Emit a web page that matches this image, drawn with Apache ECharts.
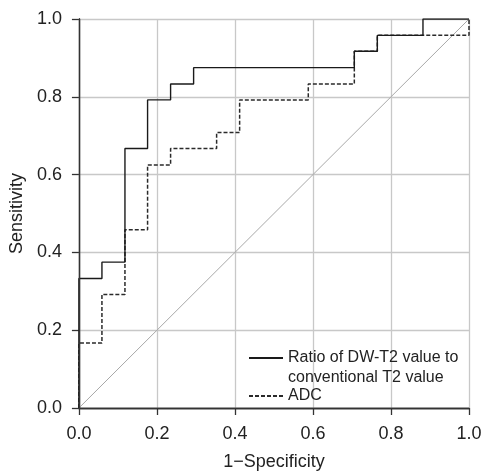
<!DOCTYPE html>
<html>
<head>
<meta charset="utf-8">
<script src="https://cdn.jsdelivr.net/npm/echarts@6/dist/echarts.min.js"></script>
<style>
  html, body { margin: 0; padding: 0; background: #fff; }
  #main { width: 485px; height: 476px; }
</style>
</head>
<body>
<div id="main"></div>
<script>
// ROC curve data (1-specificity, sensitivity)
var ratioFpr = [0, 0, 0.059, 0.118, 0.176, 0.235, 0.294, 0.706, 0.765, 0.882, 1];
var ratioTpr = [0, 0.333, 0.375, 0.667, 0.792, 0.833, 0.875, 0.917, 0.958, 1, 1];
var adcFpr = [0, 0, 0.059, 0.118, 0.176, 0.235, 0.353, 0.412, 0.588, 0.706, 0.765, 1];
var adcTpr = [0, 0.167, 0.292, 0.458, 0.625, 0.667, 0.708, 0.792, 0.833, 0.917, 0.958, 1];
var refLine = [0, 1];

var ratioName = 'Ratio of DW-T2 value to\nconventional T2 value';
var adcName = 'ADC';

function pairs(xs, ys) {
	var arr = [];
	for (var i = 0; i < xs.length; i++) {
		arr.push([xs[i], ys[i]]);
	}
	return arr;
}

var font = '"Liberation Sans", Arial, sans-serif';
var myChart = echarts.init(document.getElementById('main'));

var axisCommon = {
	type: 'value',
	min: 0,
	max: 1,
	interval: 0.2,
	axisLine: { show: true, lineStyle: { color: '#333', width: 1.3 } },
	axisTick: { show: true, inside: false, length: 7, lineStyle: { color: '#333', width: 1.3 } },
	axisLabel: {
		margin: 17,
		fontSize: 18,
		color: '#222',
		fontFamily: font,
		formatter: function (v) { return v.toFixed(1); }
	},
	splitLine: { show: true, lineStyle: { color: '#c8c8c8', width: 1.3 } },
	nameLocation: 'middle',
	nameTextStyle: { fontSize: 18, color: '#222', fontFamily: font }
};

var borderAxis = {
	type: 'value',
	min: 0,
	max: 1,
	z: 10,
	axisLine: { show: true, lineStyle: { color: '#333', width: 1.3 } },
	axisTick: { show: false },
	axisLabel: { show: false },
	splitLine: { show: false }
};

var legendCommon = {
	orient: 'vertical',
	left: 248,
	padding: 0,
	itemWidth: 34,
	itemHeight: 14,
	itemGap: 0,
	itemStyle: { opacity: 0 },
	textStyle: { fontSize: 16, color: '#222', fontFamily: font, lineHeight: 20 }
};

var option = {
	backgroundColor: '#fff',
	animation: false,
	grid: { left: 73, top: 19, right: 16, bottom: 62 },
	xAxis: [
		Object.assign({}, axisCommon, { name: '1\u2212Specificity', nameGap: 45, position: 'bottom' }),
		Object.assign({}, borderAxis, { position: 'top' })
	],
	yAxis: [
		Object.assign({}, axisCommon, { name: 'Sensitivity', nameGap: 50, position: 'left' }),
		Object.assign({}, borderAxis, { position: 'right' })
	],
	legend: [
		Object.assign({}, legendCommon, {
			data: [ratioName],
			top: 328,
			// blank first line keeps the sample line level with the first text line
			formatter: function (name) { return ' \n' + name; }
		}),
		Object.assign({}, legendCommon, {
			data: [adcName],
			top: 386
		})
	],
	series: [{
		name: 'ref',
		type: 'line',
		data: pairs(refLine, refLine),
		symbol: 'none',
		silent: true,
		lineStyle: { color: '#a8a8a8', width: 1 },
		z: 1
	}, {
		name: adcName,
		type: 'line',
		step: 'end',
		data: pairs(adcFpr, adcTpr),
		symbol: 'none',
		itemStyle: { color: '#2a2a2a' },
		lineStyle: { color: '#2a2a2a', width: 1.5, type: [4, 2] },
		z: 2
	}, {
		name: ratioName,
		type: 'line',
		step: 'end',
		data: pairs(ratioFpr, ratioTpr),
		symbol: 'none',
		itemStyle: { color: '#1a1a1a' },
		lineStyle: { color: '#1a1a1a', width: 1.4 },
		z: 3
	}]
};

myChart.setOption(option);
</script>
</body>
</html>
